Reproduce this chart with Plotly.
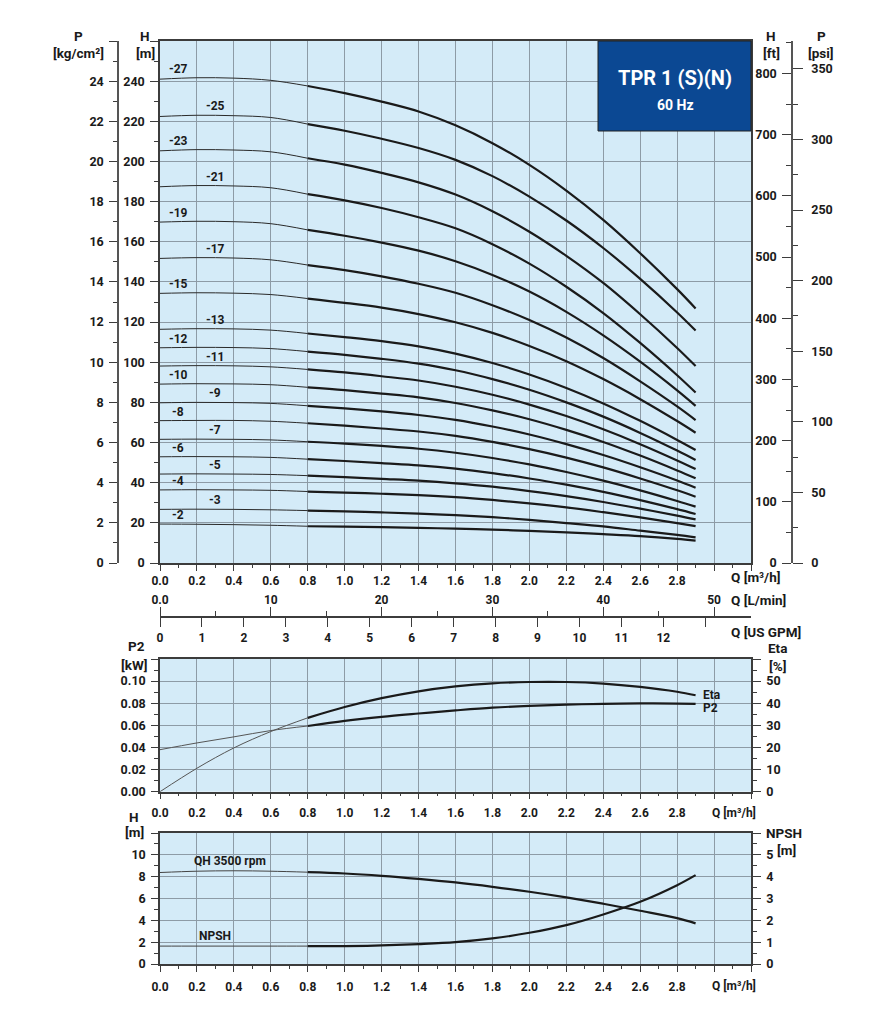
import numpy as np
import plotly.graph_objects as go

# ---------------- DATA ----------------
FLOW = [0.0, 0.2, 0.4, 0.6, 0.8, 1.0, 1.2, 1.4, 1.6, 1.8, 2.0, 2.2, 2.4, 2.6, 2.8, 2.9]

head_27 = [241.0, 241.7, 241.5, 240.4, 237.6, 234.0, 229.8, 224.9, 218.0, 209.1, 198.3, 185.5, 170.9, 154.3, 136.4, 126.8]
head_25 = [222.4, 223.0, 222.8, 221.9, 218.6, 215.3, 211.3, 206.7, 200.8, 192.7, 182.5, 170.6, 156.9, 141.5, 124.8, 115.8]
head_23 = [205.3, 205.9, 205.7, 204.8, 201.6, 198.4, 194.3, 189.6, 183.5, 175.2, 165.0, 153.0, 139.5, 123.9, 107.1, 98.1]
head_21 = [187.4, 188.0, 187.8, 186.9, 183.7, 180.6, 176.8, 172.2, 166.7, 158.8, 149.1, 137.6, 124.5, 109.6, 93.5, 84.9]
head_19 = [169.8, 170.2, 170.0, 169.0, 165.9, 163.0, 159.6, 155.6, 150.3, 143.5, 135.2, 125.1, 113.4, 100.3, 86.0, 78.3]
head_17 = [151.7, 152.1, 151.9, 151.0, 148.4, 145.9, 142.8, 139.1, 134.6, 128.4, 121.0, 112.3, 102.1, 90.5, 78.0, 71.2]
head_15 = [134.3, 134.6, 134.4, 133.7, 131.7, 129.6, 127.2, 124.0, 119.9, 114.6, 108.1, 100.5, 91.6, 81.6, 70.7, 64.9]
head_13 = [116.4, 116.7, 116.6, 116.0, 114.3, 112.5, 110.5, 107.9, 104.3, 99.6, 93.9, 87.2, 79.5, 70.8, 61.3, 56.3]
head_12 = [107.2, 107.4, 107.3, 106.8, 105.3, 103.7, 101.7, 99.3, 96.0, 91.6, 86.3, 80.0, 72.9, 64.8, 56.0, 51.3]
head_11 = [98.1, 98.3, 98.2, 97.7, 96.4, 94.9, 93.0, 90.9, 87.8, 83.8, 78.9, 73.2, 66.6, 59.2, 51.1, 46.8]
head_10 = [89.1, 89.3, 89.2, 88.8, 87.5, 86.1, 84.4, 82.5, 79.7, 76.0, 71.6, 66.3, 60.3, 53.5, 46.1, 42.2]
head_9 = [79.8, 80.0, 79.9, 79.5, 78.3, 77.0, 75.5, 73.7, 71.3, 68.0, 64.0, 59.2, 53.8, 47.7, 41.1, 37.5]
head_8 = [70.9, 71.0, 71.0, 70.6, 69.6, 68.4, 67.0, 65.5, 63.3, 60.3, 56.7, 52.5, 47.6, 42.1, 36.2, 33.0]
head_7 = [61.6, 61.7, 61.6, 61.3, 60.4, 59.5, 58.3, 56.9, 54.9, 52.3, 49.1, 45.3, 41.0, 36.2, 30.9, 28.1]
head_6 = [52.9, 53.0, 52.9, 52.6, 51.7, 50.8, 49.7, 48.6, 47.0, 44.8, 42.1, 39.0, 35.4, 31.3, 26.8, 24.4]
head_5 = [44.3, 44.4, 44.3, 44.1, 43.5, 42.8, 41.9, 41.0, 39.7, 38.0, 35.8, 33.3, 30.4, 27.1, 23.6, 21.7]
head_4 = [36.4, 36.5, 36.4, 36.2, 35.6, 35.1, 34.5, 33.8, 32.8, 31.4, 29.7, 27.7, 25.3, 22.7, 19.9, 18.4]
head_3 = [26.7, 26.8, 26.7, 26.5, 26.1, 25.7, 25.2, 24.6, 23.8, 22.8, 21.5, 19.9, 18.2, 16.1, 14.0, 12.8]
head_2 = [19.4, 19.3, 19.1, 18.8, 18.3, 18.1, 17.9, 17.5, 17.1, 16.6, 16.0, 15.3, 14.4, 13.4, 12.0, 11.1]

MODELS = ["-27", "-25", "-23", "-21", "-19", "-17", "-15", "-13", "-12", "-11",
          "-10", "-9", "-8", "-7", "-6", "-5", "-4", "-3", "-2"]
HEADS = [head_27, head_25, head_23, head_21, head_19, head_17, head_15, head_13, head_12, head_11,
         head_10, head_9, head_8, head_7, head_6, head_5, head_4, head_3, head_2]

p2_kw = [0.038, 0.0441, 0.0496, 0.0553, 0.0594, 0.0640, 0.0677, 0.0707, 0.0735, 0.0760, 0.0776, 0.0787, 0.0795, 0.0798, 0.0797, 0.0795]
eta_pct = [0.0, 10.6, 19.8, 27.2, 33.4, 38.3, 42.3, 45.4, 47.6, 49.0, 49.6, 49.6, 48.9, 47.4, 45.2, 43.6]
qh_m = [8.38, 8.50, 8.54, 8.50, 8.41, 8.29, 8.08, 7.80, 7.47, 7.07, 6.62, 6.10, 5.52, 4.88, 4.20, 3.72]
npsh_m = [0.82, 0.82, 0.82, 0.82, 0.82, 0.82, 0.85, 0.91, 1.00, 1.17, 1.43, 1.78, 2.27, 2.85, 3.61, 4.07]

Q_TICKS = [0.0, 0.2, 0.4, 0.6, 0.8, 1.0, 1.2, 1.4, 1.6, 1.8, 2.0, 2.2, 2.4, 2.6, 2.8, 3.0, 3.2]
Q_LABELS = ["0.0", "0.2", "0.4", "0.6", "0.8", "1.0", "1.2", "1.4", "1.6", "1.8", "2.0", "2.2", "2.4", "2.6", "2.8", "", ""]
H_TICKS = list(range(0, 261, 20))
P_TICKS = list(range(0, 27, 2))
FT_TICKS = list(range(0, 801, 100))
PSI_TICKS = list(range(0, 351, 50))
LMIN_TICKS = [0, 10, 20, 30, 40, 50]
LMIN_LABELS = ["0.0", "10", "20", "30", "40", "50"]
GPM_TICKS = list(range(0, 14))
GPM_LABELS = [str(v) for v in range(0, 13)] + [""]
P2_TICKS = [0.0, 0.02, 0.04, 0.06, 0.08, 0.10, 0.12]
ETA_TICKS = [0, 10, 20, 30, 40, 50, 60]
HB_TICKS = [0, 2, 4, 6, 8, 10, 12]
NPSH_TICKS = [0, 1, 2, 3, 4, 5, 6]

# ---------------- STYLE ----------------
OFF = 8                     # page body margin of the browser
W, HGT = 883 - OFF, 1024 - OFF
def px(x):
    return (x - OFF) / W
def py(y):
    return 1 - (y - OFF) / HGT

XD = [px(160), px(751)]
YD_MAIN = [py(563), py(41)]
YD_MID = [py(791.7), py(659)]
YD_BOT = [py(964), py(833)]

BG = "#d4ebf8"
GRID = "#8d9ba6"
AX = "#3c3c3c"
INK = "#1a1a1a"
FONT = "Roboto"
TF = dict(family=FONT, size=12.5, color=INK, weight="bold")
TF_SMALL = dict(family=FONT, size=12, color=INK, weight="bold")

def lbls(vals, fmt, blank_last=True):
    out = [fmt.format(v) for v in vals]
    if blank_last:
        out[-1] = ""
    return out

def xax(anchor, **kw):
    d = dict(domain=XD, anchor=anchor, range=[0, 3.2], tickmode="array",
             tickvals=Q_TICKS, ticktext=Q_LABELS, ticks="outside", ticklen=6,
             tickcolor=AX, tickwidth=1, showline=True, linecolor=AX, linewidth=1.5,
             mirror=True, showgrid=True, gridcolor=GRID, gridwidth=1, zeroline=False,
             tickfont=TF_SMALL, automargin=False, ticklabelstandoff=3,
             minor=dict(tickmode="linear", tick0=0, dtick=0.1, ticks="outside",
                        ticklen=3, tickcolor=AX, showgrid=False))
    d.update(kw)
    return d

def yax(**kw):
    d = dict(ticks="outside", ticklen=8, tickcolor=AX, tickwidth=1, showline=True,
             linecolor=AX, linewidth=1.5, zeroline=False, tickfont=TF,
             automargin=False, tickmode="array", ticklabelstandoff=3)
    d.update(kw)
    return d

fig = go.Figure()

# main head curves
THIN = dict(color="#2a2a2a", width=1, shape="spline", smoothing=1.0)
THICK = dict(color=INK, width=2.2, shape="spline", smoothing=1.0)
annotations = []
LABEL_Q = [0.1, 0.3]
for i, (name, h) in enumerate(zip(MODELS, HEADS)):
    fig.add_trace(go.Scatter(x=FLOW[:5], y=h[:5], mode="lines", line=THIN,
                             xaxis="x", yaxis="y", showlegend=False, hoverinfo="skip"))
    fig.add_trace(go.Scatter(x=FLOW[4:], y=h[4:], mode="lines", line=THICK,
                             xaxis="x", yaxis="y", showlegend=False, hoverinfo="skip"))
    lq = LABEL_Q[i % 2]
    annotations.append(dict(x=lq, y=float(np.interp(lq, FLOW, h)), xref="x", yref="y",
                            text=name, showarrow=False, yshift=9,
                            font=dict(family=FONT, size=12, color=INK, weight="bold")))

# dummy traces registering the extra scale axes
for xa, ya in [("x2", "y"), ("x3", "y"), ("x", "y2"), ("x", "y3"), ("x", "y4")]:
    fig.add_trace(go.Scatter(x=[], y=[], xaxis=xa, yaxis=ya, showlegend=False, hoverinfo="skip"))

# middle panel
fig.add_trace(go.Scatter(x=FLOW[:5], y=p2_kw[:5], mode="lines", line=dict(color="#555555", width=1, shape="spline"),
                         xaxis="x4", yaxis="y5", showlegend=False, hoverinfo="skip"))
fig.add_trace(go.Scatter(x=FLOW[4:], y=p2_kw[4:], mode="lines", line=THICK,
                         xaxis="x4", yaxis="y5", showlegend=False, hoverinfo="skip"))
fig.add_trace(go.Scatter(x=FLOW[:5], y=eta_pct[:5], mode="lines", line=dict(color="#555555", width=1, shape="spline"),
                         xaxis="x4", yaxis="y6", showlegend=False, hoverinfo="skip"))
fig.add_trace(go.Scatter(x=FLOW[4:], y=eta_pct[4:], mode="lines", line=THICK,
                         xaxis="x4", yaxis="y6", showlegend=False, hoverinfo="skip"))

# bottom panel
fig.add_trace(go.Scatter(x=FLOW[:5], y=qh_m[:5], mode="lines", line=dict(color="#444444", width=1, shape="spline"),
                         xaxis="x5", yaxis="y7", showlegend=False, hoverinfo="skip"))
fig.add_trace(go.Scatter(x=FLOW[4:], y=qh_m[4:], mode="lines", line=THICK,
                         xaxis="x5", yaxis="y7", showlegend=False, hoverinfo="skip"))
fig.add_trace(go.Scatter(x=FLOW[:5], y=npsh_m[:5], mode="lines", line=dict(color="#444444", width=1, shape="spline"),
                         xaxis="x5", yaxis="y8", showlegend=False, hoverinfo="skip"))
fig.add_trace(go.Scatter(x=FLOW[4:], y=npsh_m[4:], mode="lines", line=THICK,
                         xaxis="x5", yaxis="y8", showlegend=False, hoverinfo="skip"))

H_MAX = 260.0
layout = dict(
    width=W, height=HGT, template="none",
    margin=dict(l=0, r=0, t=0, b=0, pad=0),
    paper_bgcolor="white", plot_bgcolor=BG,
    font=dict(family=FONT, color=INK),
    showlegend=False, hovermode=False,
    # main panel
    xaxis=xax("y", ticklabelstandoff=0),
    yaxis=yax(domain=YD_MAIN, anchor="x", range=[0, H_MAX], tickvals=H_TICKS,
              ticktext=lbls(H_TICKS, "{}"), mirror=True, showgrid=True, gridcolor=GRID,
              minor=dict(tickmode="linear", tick0=0, dtick=10, ticks="outside", ticklen=4,
                         tickcolor=AX, showgrid=False)),
    yaxis2=yax(overlaying="y", anchor="free", position=px(118), side="left",
               range=[0, H_MAX / 10], tickvals=P_TICKS, ticktext=lbls(P_TICKS, "{}"),
               showgrid=False, linecolor="#555555",
               minor=dict(tickmode="linear", tick0=0, dtick=1, ticks="outside", ticklen=4,
                          tickcolor=AX, showgrid=False)),
    yaxis3=yax(overlaying="y", anchor="free", position=px(792), side="left",
               range=[0, H_MAX * 3.28084], tickvals=FT_TICKS, ticktext=[str(v) for v in FT_TICKS],
               showgrid=False, linecolor="#555555", ticklen=9,
               minor=dict(tickmode="linear", tick0=0, dtick=50, ticks="outside", ticklen=5,
                          tickcolor=AX, showgrid=False)),
    yaxis4=yax(overlaying="y", anchor="free", position=px(792), side="right",
               range=[0, H_MAX * 1.42233], tickvals=PSI_TICKS, ticktext=[str(v) for v in PSI_TICKS],
               showgrid=False, linecolor="#555555", ticklen=10, ticklabelstandoff=6,
               minor=dict(tickmode="linear", tick0=0, dtick=25, ticks="outside", ticklen=5,
                          tickcolor=AX, showgrid=False)),
    xaxis2=dict(overlaying="x", anchor="free", position=py(617), side="top",
                range=[0, 3.2 * 1000 / 60], tickmode="array", tickvals=LMIN_TICKS,
                ticktext=LMIN_LABELS, ticks="outside", ticklen=9, tickcolor=AX,
                showline=True, linecolor=AX, linewidth=1.5, showgrid=False, zeroline=False,
                tickfont=TF_SMALL, automargin=False, ticklabelstandoff=-2,
                minor=dict(tickmode="linear", tick0=0, dtick=5, ticks="outside", ticklen=5,
                           tickcolor=AX, showgrid=False)),
    xaxis3=dict(overlaying="x", anchor="free", position=py(617), side="bottom",
                range=[0, 3.2 / 0.227125], tickmode="array", tickvals=GPM_TICKS,
                ticktext=GPM_LABELS, ticks="outside", ticklen=9, tickcolor=AX,
                showline=False, showgrid=False, zeroline=False,
                tickfont=TF_SMALL, automargin=False, ticklabelstandoff=1),
    # middle panel
    xaxis4=xax("y5"),
    yaxis5=yax(domain=YD_MID, anchor="x4", range=[0, 0.12], tickvals=P2_TICKS,
               ticktext=lbls(P2_TICKS, "{:.2f}"), mirror=True, showgrid=True, gridcolor=GRID,
               ticklen=7,
               minor=dict(tickmode="linear", tick0=0, dtick=0.01, ticks="outside", ticklen=4,
                          tickcolor=AX, showgrid=False)),
    yaxis6=yax(overlaying="y5", anchor="x4", side="right", range=[0, 60], tickvals=ETA_TICKS,
               ticktext=lbls(ETA_TICKS, "{}"), showgrid=False, ticklen=8,
               minor=dict(tickmode="linear", tick0=0, dtick=5, ticks="outside", ticklen=4,
                          tickcolor=AX, showgrid=False)),
    # bottom panel
    xaxis5=xax("y7", ticklabelstandoff=5),
    yaxis7=yax(domain=YD_BOT, anchor="x5", range=[0, 12], tickvals=HB_TICKS,
               ticktext=lbls(HB_TICKS, "{}"), mirror=True, showgrid=True, gridcolor=GRID,
               ticklen=7,
               minor=dict(tickmode="linear", tick0=0, dtick=1, ticks="outside", ticklen=4,
                          tickcolor=AX, showgrid=False)),
    yaxis8=yax(overlaying="y7", anchor="x5", side="right", range=[0, 6], tickvals=NPSH_TICKS,
               ticktext=lbls(NPSH_TICKS, "{}"), showgrid=False, ticklen=8,
               minor=dict(tickmode="linear", tick0=0, dtick=0.5, ticks="outside", ticklen=4,
                          tickcolor=AX, showgrid=False)),
)

TITLE_F = dict(family=FONT, size=13.5, color=INK, weight="bold")
def ptxt(text, x, y, xanchor="center", font=TITLE_F):
    return dict(text=text, x=px(x), y=py(y), xref="paper", yref="paper",
                xanchor=xanchor, yanchor="middle", showarrow=False, font=font)

annotations += [
    ptxt("P", 78, 36), ptxt("[kg/cm²]", 78, 53),
    ptxt("H", 145, 36), ptxt("[m]", 145, 53),
    ptxt("H", 771, 36), ptxt("[ft]", 771, 53),
    ptxt("P", 821, 36), ptxt("[psi]", 821, 53),
    ptxt("Q [m³/h]", 729, 577, "left"),
    ptxt("Q [L/min]", 729, 600, "left"),
    ptxt("Q [US GPM]", 729, 632, "left"),
    ptxt("P2", 136, 646), ptxt("[kW]", 135, 665),
    ptxt("Eta", 777, 648), ptxt("[%]", 777, 666),
    ptxt("Q [m³/h]", 710, 812, "left", dict(family=FONT, size=12, color=INK, weight="bold")),
    ptxt("H", 134, 817), ptxt("[m]", 135, 832),
    ptxt("NPSH", 784, 833), ptxt("[m]", 786, 850),
    ptxt("Q [m³/h]", 710, 985, "left", dict(family=FONT, size=12, color=INK, weight="bold")),
    ptxt("TPR 1 (S)(N)", 675, 78, "center", dict(family=FONT, size=20, color="white", weight="bold")),
    ptxt("60 Hz", 675, 105, "center", dict(family=FONT, size=14, color="white", weight="bold")),
]

CURVE_F = dict(family=FONT, size=12, color=INK, weight="bold")
annotations += [
    dict(x=2.93, y=eta_pct[-1], xref="x4", yref="y6", text="Eta", xanchor="left",
         showarrow=False, font=CURVE_F),
    dict(x=2.93, y=p2_kw[-1], xref="x4", yref="y5", text="P2", xanchor="left",
         yshift=-4, showarrow=False, font=CURVE_F),
    dict(x=0.38, y=float(np.interp(0.38, FLOW, qh_m)), xref="x5", yref="y7", text="QH 3500 rpm",
         showarrow=False, yshift=10, font=CURVE_F),
    dict(x=0.30, y=float(np.interp(0.30, FLOW, npsh_m)), xref="x5", yref="y8", text="NPSH",
         showarrow=False, yshift=10, font=CURVE_F),
]

layout["annotations"] = annotations
layout["shapes"] = [dict(type="rect", xref="paper", yref="paper",
                         x0=px(598), x1=px(751), y0=py(131), y1=py(41),
                         fillcolor="#0b4893", line=dict(color="#222222", width=1), layer="above")]

fig.update_layout(**layout)
fig.write_html("out.html")
